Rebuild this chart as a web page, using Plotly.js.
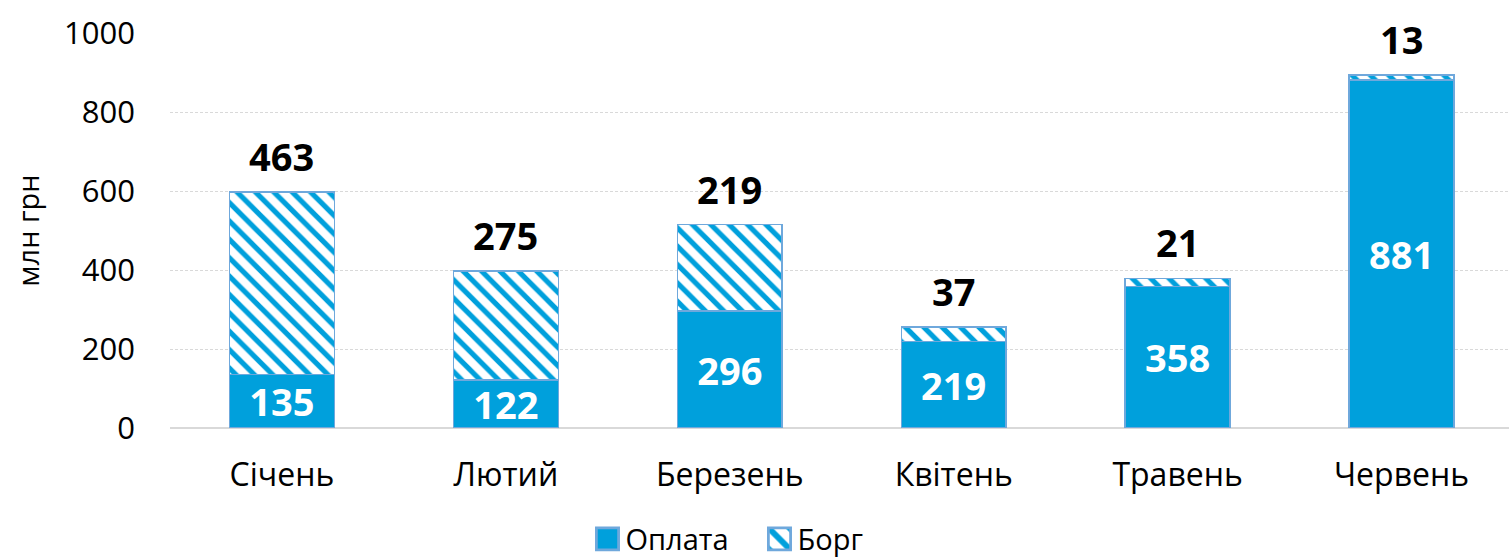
<!DOCTYPE html>
<html>
<head>
<meta charset="utf-8">
<script src="https://cdn.plot.ly/plotly-3.0.1.min.js"></script>
<style>html,body{margin:0;padding:0;background:#fff;}#chart{width:1509px;height:558px;}</style>
</head>
<body>
<div id="chart"></div>
<script>
const months = ["Січень", "Лютий", "Березень", "Квітень", "Травень", "Червень"];
const payment = [135, 122, 296, 219, 358, 881];
const debt = [463, 275, 219, 37, 21, 13];
const yTicks = [0, 200, 400, 600, 800, 1000];

const FONT = "'Open Sans', 'Noto Sans', sans-serif";
const BLUE = "#00A0DC";
const EDGE = "#6FA8DC";

const traces = [
  {
    type: "bar", name: "Оплата", x: months, y: payment,
    marker: {color: BLUE, line: {color: EDGE, width: 1.5}},
    text: payment.map(String), textposition: "inside", insidetextanchor: "middle",
    constraintext: "none",
    textfont: {family: FONT, size: 38, color: "#ffffff", weight: "bold"},
    width: 0.468, hoverinfo: "skip"
  },
  {
    type: "bar", name: "Борг", x: months, y: debt,
    marker: {color: "#ffffff", line: {color: EDGE, width: 1.5},
      pattern: {shape: "\\", fgcolor: BLUE, bgcolor: "#ffffff", size: 13, solidity: 0.4, fillmode: "replace"}},
    width: 0.468, hoverinfo: "skip"
  }
];

const annotations = months.map((m, i) => ({
  x: m, y: payment[i] + debt[i], xref: "x", yref: "y",
  text: String(debt[i]), showarrow: false, yanchor: "middle", yshift: 36,
  font: {family: FONT, size: 38, color: "#000000", weight: "bold"}
}));

const layout = {
  width: 1509, height: 558,
  margin: {l: 170, r: 0, t: 33, b: 130, autoexpand: false},
  paper_bgcolor: "#ffffff", plot_bgcolor: "#ffffff",
  barmode: "stack",
  font: {family: FONT, color: "#000000"},
  xaxis: {
    range: [-0.5, 5.48], showgrid: false, showline: false, ticks: "", automargin: false,
    tickfont: {family: FONT, size: 32, color: "#000000"}, ticklabelstandoff: 25
  },
  yaxis: {
    range: [0, 1000], tickvals: yTicks, ticktext: yTicks.map(String), automargin: false,
    showgrid: true, gridcolor: "#D9D9D9", griddash: "3px,2px", gridwidth: 1,
    zeroline: true, zerolinecolor: "#D9D9D9", zerolinewidth: 2,
    showline: false, ticks: "", ticklabelstandoff: 34,
    tickfont: {family: FONT, size: 31, color: "#000000"},
    title: {text: "млн грн", font: {family: FONT, size: 29, color: "#000000"}, standoff: 15}
  },
  showlegend: true,
  legend: {
    orientation: "h", xref: "container", yref: "container",
    x: 0.388, xanchor: "left", y: 0.034, yanchor: "middle",
    font: {family: FONT, size: 29, color: "#000000"}, traceorder: "normal",
    entrywidth: 127, entrywidthmode: "pixels"
  },
  annotations: annotations
};

Plotly.newPlot("chart", traces, layout, {displayModeBar: false, staticPlot: true}).then(() => {
  document.querySelectorAll("#chart .legend [clip-path]").forEach(el => el.removeAttribute("clip-path"));
  document.querySelectorAll("#chart .legend .legendpoints path").forEach(p => {
    p.setAttribute("transform", "translate(22,0) scale(1.85)");
  });
});
</script>
</body>
</html>
